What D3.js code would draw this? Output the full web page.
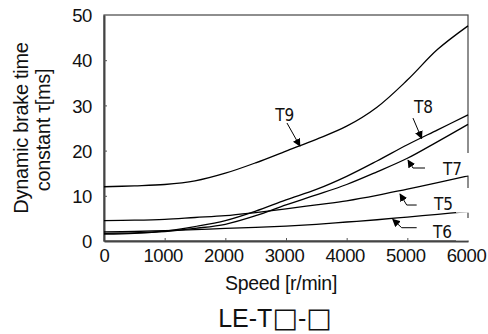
<!DOCTYPE html>
<html>
<head>
<meta charset="utf-8">
<title>Dynamic brake time constant</title>
<script src="https://d3js.org/d3.v7.min.js"></script>
<style>
  * { margin: 0; padding: 0; }
  body { background: #fff; }
  svg { display: block; font-family: "Liberation Sans", Arial, sans-serif; }
</style>
</head>
<body>
<div id="chart"></div>
<script>
// speed axis (r/min)
const speeds = [0, 500, 1000, 1500, 2000, 2500, 3000, 3500, 4000, 4500, 5000, 5500, 6000];
// time constant tau [ms] per model
const t9 = [12.0, 12.2, 12.5, 13.3, 15.0, 17.3, 19.9, 22.5, 25.4, 29.6, 35.6, 42.4, 47.6];
const t8 = [1.5, 1.7, 2.2, 3.2, 4.5, 6.6, 9.1, 11.4, 14.3, 17.7, 21.3, 24.6, 27.9];
const t7 = [1.7, 1.8, 2.1, 2.8, 3.7, 5.6, 8.0, 10.2, 12.5, 15.3, 18.3, 22.0, 25.8];
const t5 = [4.5, 4.6, 4.8, 5.2, 5.6, 6.3, 7.1, 8.0, 8.9, 10.1, 11.5, 12.9, 14.4];
const t6 = [2.0, 2.1, 2.3, 2.5, 2.8, 3.0, 3.3, 3.7, 4.2, 4.7, 5.3, 5.9, 6.5];
const seriesNames = ["T9", "T8", "T7", "T5", "T6"];
const seriesValues = [t9, t8, t7, t5, t6];

const xTicks = [0, 1000, 2000, 3000, 4000, 5000, 6000];
const yTicks = [0, 10, 20, 30, 40, 50];

// label annotations: text anchor point, arrow path (data units), last points are the tips
const labelText = [[2980, 26.5], [5266, 28.3], [5744, 14.6], [5596, 6.86], [5580, 0.66]];
const labelArrow = [
  [[3016, 26.1], [3230, 21.0]],
  [[5093, 27.2], [5236, 22.7]],
  [[5291, 16.15], [5093, 16.15], [5011, 17.9]],
  [[5154, 7.96], [4990, 7.96], [4879, 10.4]],
  [[5154, 2.94], [4907, 2.94], [4759, 4.8]]
];

const W = 488, H = 334;
const margin = { top: 15, right: 20, bottom: 93, left: 104 };

const svg = d3.select("#chart").append("svg")
  .attr("width", W).attr("height", H)
  .style("background", "#fff");

const x = d3.scaleLinear().domain([0, 6000]).range([margin.left, W - margin.right]);
const y = d3.scaleLinear().domain([0, 50]).range([H - margin.bottom, margin.top]);

// arrow head
svg.append("defs").append("marker")
  .attr("id", "head")
  .attr("viewBox", "0 0 10 10")
  .attr("refX", 9).attr("refY", 5)
  .attr("markerWidth", 8).attr("markerHeight", 8)
  .attr("markerUnits", "userSpaceOnUse")
  .attr("orient", "auto")
  .append("path").attr("d", "M0,0 L10,5 L0,10 Z").attr("fill", "#000");

// frame
svg.append("rect")
  .attr("x", x(0)).attr("y", y(50))
  .attr("width", x(6000) - x(0)).attr("height", y(0) - y(50))
  .attr("fill", "none").attr("stroke", "#444").attr("stroke-width", 1.2);

// axes with inward ticks
const xAxis = svg.append("g")
  .attr("transform", `translate(0,${y(0)})`)
  .call(d3.axisBottom(x).tickValues(xTicks).tickFormat(d3.format("d"))
    .tickSizeInner(-3).tickSizeOuter(0).tickPadding(8));
const yAxis = svg.append("g")
  .attr("transform", `translate(${x(0)},0)`)
  .call(d3.axisLeft(y).tickValues(yTicks).tickFormat(d3.format("d"))
    .tickSizeInner(-3).tickSizeOuter(0).tickPadding(12));

[xAxis, yAxis].forEach(g => {
  g.select(".domain").attr("stroke", "#444").attr("stroke-width", 2);
  g.selectAll(".tick line").attr("stroke", "#555");
  g.selectAll("text")
    .attr("fill", "#111")
    .style("font-size", "18.5px")
    .style("letter-spacing", "-0.4px")
    .style("font-family", "'Liberation Sans', Arial, sans-serif");
});
xAxis.selectAll(".tick").filter(d => d === 0 || d === 6000).select("line").remove();
yAxis.selectAll(".tick").filter(d => d === 0 || d === 50).select("line").remove();
yAxis.selectAll("text").attr("dy", "0.36em");
xAxis.selectAll("text").attr("dx", d => d === 0 ? 0 : -2);

// curves
const line = d3.line()
  .x((d, i) => x(speeds[i]))
  .y(d => y(d))
  .curve(d3.curveCatmullRom.alpha(0.5));

svg.append("g").selectAll("path")
  .data(seriesValues)
  .join("path")
  .attr("d", line)
  .attr("fill", "none")
  .attr("stroke", "#000")
  .attr("stroke-width", 1.3);

// label backgrounds break the right border near T7, T5, T6
const erase = [null, null, [-22, 0.5], [-22, 2.7], [-20, 2.5]];
erase.forEach((e, i) => {
  if (!e) return;
  const by = y(labelText[i][1]);
  svg.append("rect")
    .attr("x", x(6000) - 12).attr("y", by + e[0])
    .attr("width", 20).attr("height", e[1] - e[0])
    .attr("fill", "#fff");
});

// arrows
svg.append("g").selectAll("path")
  .data(labelArrow)
  .join("path")
  .attr("d", d => d3.line().x(p => x(p[0])).y(p => y(p[1]))(d))
  .attr("fill", "none")
  .attr("stroke", "#000")
  .attr("stroke-width", 1)
  .attr("marker-end", "url(#head)");

// series labels
svg.append("g").selectAll("text")
  .data(seriesNames)
  .join("text")
  .attr("x", (d, i) => x(labelText[i][0]))
  .attr("y", (d, i) => y(labelText[i][1]))
  .attr("text-anchor", "middle")
  .style("font-family", "'Liberation Sans Narrow', 'DejaVu Sans Condensed', 'Arial Narrow', sans-serif")
  .style("font-stretch", "condensed")
  .style("font-size", "17px")
  .attr("fill", "#111")
  .text(d => d);

// axis titles
svg.append("text")
  .attr("transform", "translate(28,128) rotate(-90)")
  .attr("text-anchor", "middle")
  .style("font-size", "20px")
  .style("letter-spacing", "-0.3px")
  .attr("fill", "#111")
  .text("Dynamic brake time");
svg.append("text")
  .attr("transform", "translate(50,130) rotate(-90)")
  .attr("text-anchor", "middle")
  .style("font-size", "20px")
  .style("letter-spacing", "-0.3px")
  .attr("fill", "#111")
  .text("constant  τ[ms]");

svg.append("text")
  .attr("x", 281)
  .attr("y", 290)
  .attr("text-anchor", "middle")
  .style("font-size", "19.5px")
  .style("letter-spacing", "-0.3px")
  .attr("fill", "#111")
  .text("Speed [r/min]");

const model = svg.append("text")
  .attr("x", 275)
  .attr("y", 327)
  .attr("text-anchor", "middle")
  .style("font-size", "25px")
  .attr("fill", "#111");
["LE-T", "□", "-", "□"].forEach(s => {
  const t = model.append("tspan").text(s);
  if (s === "□") t.style("font-family", "'DejaVu Sans', sans-serif").style("font-size", "27px");
});
</script>
</body>
</html>
